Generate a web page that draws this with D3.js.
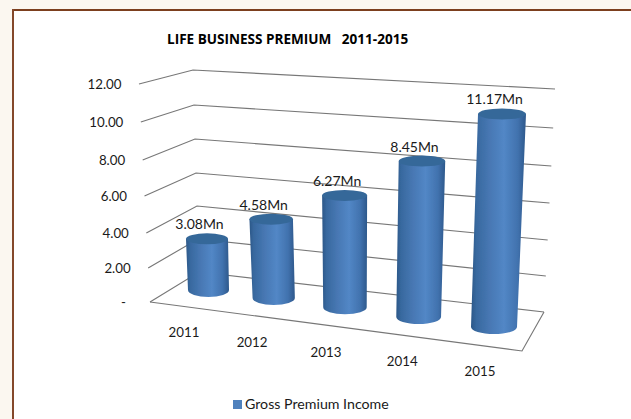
<!DOCTYPE html>
<html><head><meta charset="utf-8">
<script src="https://cdn.jsdelivr.net/npm/d3@7/dist/d3.min.js"></script>
<style>html,body{margin:0;padding:0;background:#fff}svg{display:block}
text{font-family:Lato,"Open Sans",sans-serif;fill:#1a1a1a}</style></head>
<body><div id="chart"></div>
<script>
const categories = ["2011","2012","2013","2014","2015"];
const seriesName = "Gross Premium Income";
const premiums = [3.08,4.58,6.27,8.45,11.17];
const premiumLabels = ["3.08Mn","4.58Mn","6.27Mn","8.45Mn","11.17Mn"];
const yTicks = [0,2,4,6,8,10,12];
const yTickLabels = ["-","2.00","4.00","6.00","8.00","10.00","12.00"];
const chartTitle = "LIFE BUSINESS PREMIUM   2011-2015";

const W=631,H=419;
const svg=d3.select("#chart").append("svg").attr("width",W).attr("height",H);
const defs=svg.append("defs");
defs.append("filter").attr("id","soft").attr("x","-10%").attr("y","-10%").attr("width","120%").attr("height","120%")
  .append("feGaussianBlur").attr("stdDeviation",0.7);
defs.append("filter").attr("id","lineSoft").attr("x","-5%").attr("y","-50%").attr("width","110%").attr("height","200%")
  .append("feGaussianBlur").attr("stdDeviation",0.4);
const g=defs.append("linearGradient").attr("id","cyl");
[[0,"#2c5788"],[0.1,"#38699f"],[0.35,"#4878b4"],[0.6,"#5287c6"],[0.85,"#4172ae"],[1,"#2d588b"]]
  .forEach(([o,c])=>g.append("stop").attr("offset",o).attr("stop-color",c));

// page frame
svg.append("rect").attr("width",W).attr("height",H).attr("fill","#fbf7f0");
svg.append("rect").attr("x",13).attr("y",10).attr("width",W).attr("height",H).attr("fill","#fff");
svg.append("rect").attr("x",12).attr("y",9).attr("width",W).attr("height",2).attr("fill","#7c3f1e");
svg.append("rect").attr("x",12).attr("y",9).attr("width",2).attr("height",H).attr("fill","#84482a");

// 3D projection expressed as scales over the value axis
const frontX=d3.scaleLinear().domain([0,12]).range([150,139]);
const frontY=d3.scaleLinear().domain(yTicks).range([302,268,233,196,160,122,84]);
const backX =d3.scaleLinear().domain([0,12]).range([199,193]);
const backY =d3.scaleLinear().domain(yTicks).range([272,239,206,173,139,105,70]);
const rightX=d3.scaleLinear().domain([0,12]).range([544,555]);
const rightY=d3.scaleLinear().domain(yTicks).range([312,276,240,203,166,128,89]);

const lineG=svg.append("g").attr("fill","none").attr("stroke","#777").attr("stroke-width",1.15).attr("filter","url(#lineSoft)");
yTicks.forEach(t=>{
  lineG.append("path").attr("d",d3.line()([[frontX(t),frontY(t)],[backX(t),backY(t)],[rightX(t),rightY(t)]]));
});
// floor front edges
const floorFront=[522,351];
lineG.append("path").attr("d",d3.line()([[frontX(0),frontY(0)],floorFront,[rightX(0),rightY(0)]]));

// axis labels
svg.append("g").selectAll("text").data(yTicks).join("text")
  .attr("x",t=>frontX(t)+(t===0?-24:-17.5))
  .attr("y",t=>frontY(t)+5)
  .attr("text-anchor","end").attr("font-size",13.3)
  .text((t,i)=>yTickLabels[i]);

// bars
const u=d3.scalePoint().domain(categories).range([0,1]);
const baseCx=d3.scalePow().exponent(1.065).domain([0,1]).range([208.5,494]);
const baseCy=d3.scalePow().exponent(1.1).domain([0,1]).range([290,327]);
const topCx =d3.scalePow().exponent(1.1).domain([0,1]).range([207,502]);
const pxPerUnit=d3.scaleLinear().domain([0,1]).range([16.6,19.07]);
const baseW=d3.scaleLinear().domain([0,1]).range([41,46]);
const topW =d3.scaleLinear().domain([0,1]).range([42,48]);
const height=(c,v)=>d3.scaleLinear().domain([0,1]).range([0,pxPerUnit(u(c))])(v);

const bars=svg.append("g").attr("filter","url(#soft)").selectAll("g").data(categories).join("g");
bars.each(function(c,i){
  const s=d3.select(this),t=u(c);
  const bx=baseCx(t),by=baseCy(t),tx=topCx(t),ty=by-height(c,premiums[i]);
  const bw=baseW(t)/2,tw=topW(t)/2,ry=5.5;
  s.append("path").attr("fill","url(#cyl)")
   .attr("d",`M${tx-tw},${ty}L${bx-bw},${by}A${bw},${ry+1.5} 0 0 0 ${bx+bw},${by}L${tx+tw},${ty}Z`);
  s.append("ellipse").attr("cx",tx).attr("cy",ty).attr("rx",tw).attr("ry",ry).attr("fill","#366899");
});

// value labels
svg.append("g").selectAll("text").data(categories).join("text")
  .attr("x",c=>topCx(u(c))-7.5)
  .attr("y",(c,i)=>baseCy(u(c))-height(c,premiums[i])-9.5)
  .attr("text-anchor","middle").attr("font-size",14)
  .text((c,i)=>premiumLabels[i]);

// category labels
const catX=d3.scalePow().exponent(1.06).domain([0,1]).range([184,480]);
const catY=d3.scaleLinear().domain([0,1]).range([337,376]);
svg.append("g").selectAll("text").data(categories).join("text")
  .attr("x",c=>catX(u(c))).attr("y",c=>catY(u(c)))
  .attr("text-anchor","middle").attr("font-size",13.3).text(c=>c);

// title
svg.append("text").attr("x",167).attr("y",43.5).attr("font-size",13.55).attr("font-weight",700)
  .style("font-family","'Open Sans',sans-serif").style("fill","#000")
  .style("white-space","pre").text(chartTitle);

// legend
svg.append("rect").attr("x",233).attr("y",400).attr("width",9).attr("height",9).attr("fill","#4f81bd");
svg.append("text").attr("x",245).attr("y",408.5).attr("font-size",14.2).text(seriesName);
</script></body></html>
